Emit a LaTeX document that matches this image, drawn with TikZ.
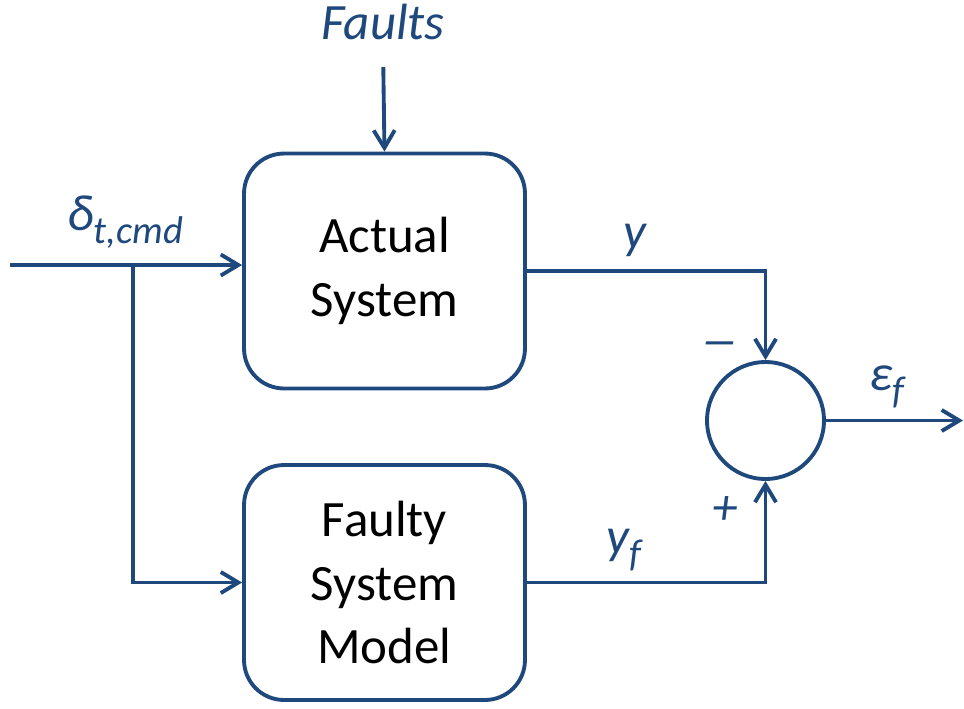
\documentclass[tikz,border=0pt]{standalone}
\usepackage{fontspec}
\setmainfont{Carlito}
\usetikzlibrary{arrows.meta,positioning,calc}
\definecolor{lineblue}{RGB}{31,73,125}
\newcommand{\lowsub}[1]{\raisebox{-0.55ex}{\fontsize{22}{22}\selectfont #1}}

\begin{document}
\begin{tikzpicture}[x=0.02cm,y=-0.02cm,
    block/.style={draw=lineblue,line width=2.2pt,rounded corners=0.8cm,minimum width=5.62cm,minimum height=4.7cm,align=center,font=\fontsize{29}{36}\selectfont},
    sig/.style={draw=lineblue,line width=2.2pt,-{Straight Barb[length=10pt,width=12pt,line width=2.2pt]}},
    wire/.style={draw=lineblue,line width=2.2pt},
    lbl/.style={text=lineblue,font=\fontsize{29}{35}\selectfont\itshape}]
    \useasboundingbox (0,0) rectangle (964,708);

    % Two blocks and the summing junction
    \node[block] (actual) at (384.5,271) {Actual\\System};
    \node[block] (faulty) at (384.5,582.5) {Faulty\\System\\Model};
    \node[wire,circle,minimum size=2.34cm] (sum) at (765.5,420.5) {};

    % Labels
    \node[lbl] (faults) at (383,22) {Faults};
    \node[lbl] (cmd) at (125,222) {δ\lowsub{t,cmd}};
    \node[lbl] (ylbl) at (635,240) {y};
    \node[lbl] (yflbl) at (624,550) {y\lowsub{f}};
    \node[lbl] (eps) at (887,387) {ε\lowsub{f}};
    \node[lbl] (minus) at (720,350) {\scalebox{1.5}[1]{–}};
    \node[lbl] (plus) at (725,510) {+};

    % Input and outputs
    \coordinate (in) at (10,265);
    \coordinate (split) at (133,265);
    \coordinate (out) at (963,420.5);

    % Arrows
    \draw[sig,shorten <=12pt] (faults.south) -- (actual.north);
    \draw[sig] (in) -- (in -| actual.west);
    \draw[sig] (split) |- (faulty.west);
    \draw[sig] (actual.east) -| (sum.north);
    \draw[sig] (faulty.east) -| (sum.south);
    \draw[sig] (sum.east) -- (out);
\end{tikzpicture}
\end{document}
